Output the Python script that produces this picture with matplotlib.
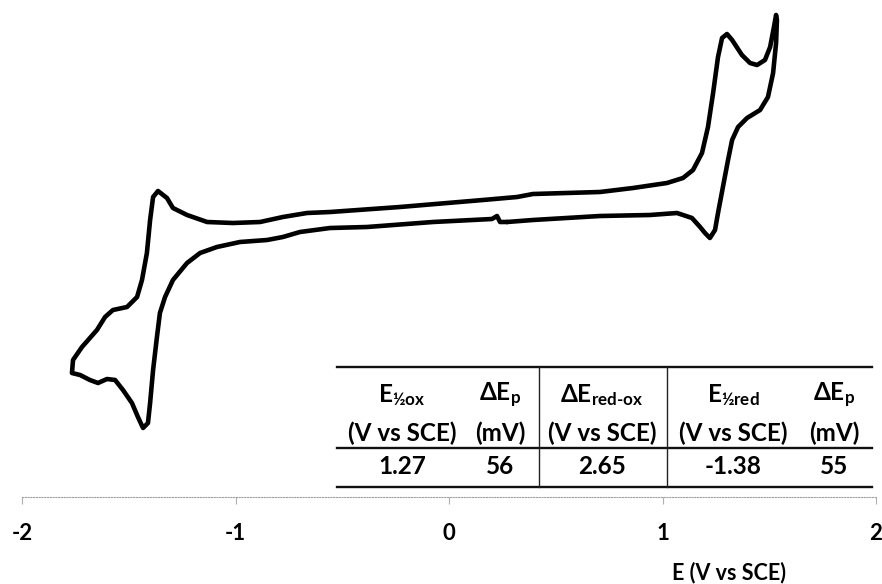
import matplotlib

matplotlib.use("Agg")
import matplotlib.pyplot as plt

plt.rcParams["font.family"] = ["Lato", "DejaVu Sans"]
plt.rcParams["mathtext.fontset"] = "custom"
plt.rcParams["mathtext.rm"] = "Lato:bold"
plt.rcParams["mathtext.it"] = "Lato:bold:italic"
plt.rcParams["mathtext.bf"] = "Lato:bold"
plt.rcParams["mathtext.fallback"] = "stixsans"

# potential (V vs SCE) and current (arb. units)
potential = [
    0.272, 0.239, 0.225, 0.201, -0.075, -0.384, -0.557, -0.698, -0.778, -0.852,
    -0.979, -1.087, -1.166, -1.227, -1.293, -1.330, -1.354, -1.368, -1.386, -1.400,
    -1.410, -1.433, -1.457, -1.485, -1.527, -1.564, -1.602, -1.644, -1.682, -1.728,
    -1.766, -1.761, -1.719, -1.649, -1.611, -1.574, -1.508, -1.461, -1.438, -1.415,
    -1.400, -1.386, -1.363, -1.321, -1.293, -1.227, -1.133, -1.012, -0.885, -0.778,
    -0.665, -0.557, -0.230, 0.159, 0.319, 0.393, 0.707, 0.862, 1.021, 1.096,
    1.143, 1.185, 1.213, 1.237, 1.260, 1.279, 1.302, 1.326, 1.372, 1.410,
    1.443, 1.480, 1.504, 1.522, 1.532, 1.536, 1.532, 1.518, 1.494, 1.457,
    1.396, 1.354, 1.326, 1.307, 1.283, 1.260, 1.246, 1.222, 1.199, 1.176,
    1.138, 1.068, 0.941, 0.707, 0.393, 0.272,
]
current = [
    27.5, 27.5, 28.1, 27.8, 27.5, 27.0, 26.9, 26.5, 26.0, 25.7,
    25.5, 25.0, 24.4, 23.4, 21.7, 20.0, 18.4, 16.0, 12.7, 9.4,
    7.4, 6.9, 8.0, 9.4, 10.7, 11.7, 11.8, 11.4, 11.7, 12.2,
    12.4, 13.7, 15.0, 16.7, 18.0, 18.7, 19.0, 20.0, 21.7, 24.4,
    27.7, 30.0, 30.6, 29.9, 28.9, 28.2, 27.5, 27.4, 27.5, 28.0,
    28.4, 28.5, 29.0, 29.7, 30.0, 30.3, 30.5, 30.9, 31.4, 31.9,
    32.7, 34.4, 37.0, 40.4, 44.0, 45.9, 46.3, 45.7, 44.2, 43.4,
    43.2, 43.7, 45.0, 47.0, 48.2, 47.7, 45.4, 42.4, 40.0, 38.7,
    37.9, 37.0, 35.7, 33.7, 31.0, 28.4, 26.7, 25.9, 26.4, 27.0,
    27.9, 28.4, 28.2, 28.1, 27.7, 27.5,
]

x_ticks = [-2, -1, 0, 1, 2]

header_top = ["E$_{\\mathrm{½ox}}$", "ΔE$_{\\mathrm{p}}$", "ΔE$_{\\mathrm{red\\text{-}ox}}$",
              "E$_{\\mathrm{½red}}$", "ΔE$_{\\mathrm{p}}$"]
header_units = ["(V vs SCE)", "(mV)", "(V vs SCE)", "(V vs SCE)", "(mV)"]
table_values = ["1.27", "56", "2.65", "-1.38", "55"]

W, H = 882, 584
fig = plt.figure(figsize=(W / 100, H / 100), dpi=100)
ax = fig.add_axes([22 / W, 87 / H, 854 / W, 497 / H])

ax.plot(potential, current, color="black", lw=3.3,
        solid_joinstyle="round", solid_capstyle="round", clip_on=False)
ax.set_xlim(-2, 2)
ax.set_ylim(0, 49.7)
for side in ("left", "right", "top"):
    ax.spines[side].set_visible(False)
ax.spines["bottom"].set_color("#a0a0a0")
ax.spines["bottom"].set_linewidth(0.8)
ax.spines["bottom"].set_linestyle((0, (1, 1.5)))
ax.set_yticks([])
ax.set_xticks(x_ticks)
ax.set_xticklabels([str(t) for t in x_ticks])
ax.tick_params(axis="x", direction="out", length=5, width=0.8, color="#b0b0b0",
               pad=14, labelsize=16)
for lab in ax.get_xticklabels():
    lab.set_fontweight("bold")

fig.text(729 / W, 1 - 573 / H, "E (V vs SCE)", ha="center", va="center",
         fontsize=15.5, fontweight="bold")

# data table
tab = fig.add_axes([337 / W, 97 / H, 535 / W, 120 / H])
tab.set_xlim(0, 1)
tab.set_ylim(0, 1)
tab.axis("off")
col_x = [0.1215, 0.305, 0.495, 0.740, 0.929]
row_y = [0.767, 0.45, 0.167]
for cx, top, unit, val in zip(col_x, header_top, header_units, table_values):
    tab.text(cx, row_y[0], top, ha="center", va="center", fontsize=17.5, fontweight="bold")
    tab.text(cx, row_y[1], unit, ha="center", va="center", fontsize=17.5, fontweight="bold")
    tab.text(cx, row_y[2], val, ha="center", va="center", fontsize=17.5, fontweight="bold")

for yl in (1.0, 0.325, 0.0):
    tab.plot([0, 1], [yl, yl], color="#111111", lw=1.7, clip_on=False)
for xl in (0.3776, 0.6168):
    tab.plot([xl, xl], [0, 1], color="#222222", lw=1.0, clip_on=False)

fig.savefig("out.png", dpi=100)
